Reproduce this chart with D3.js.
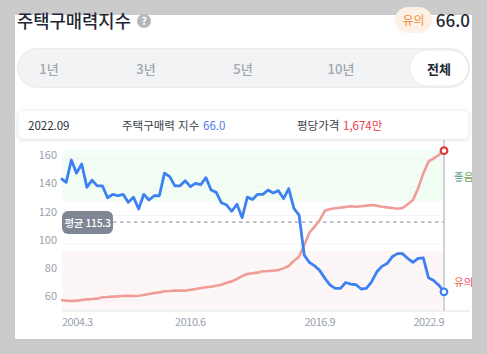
<!DOCTYPE html>
<html lang="ko"><head><meta charset="utf-8">
<script src="https://cdnjs.cloudflare.com/ajax/libs/d3/7.8.5/d3.min.js"></script>
<style>html,body{margin:0;padding:0;background:#cbcbcb}svg{display:block}text{font-family:"Noto Sans CJK KR","Noto Sans",sans-serif}</style>
</head><body><div id="c"></div>
<script>
const indexValues=[146.3,143.5,159.3,150,156.5,140,145,141,141,132.6,135,134,135,129.3,133,124.6,135,131,134,134,150,147.5,141,141,144.6,140.4,142.8,141.8,146.8,138,136.4,129,127.4,123,128,118.4,133,131.4,135,135,138,136,137.6,132,139,125,120.3,92,86.8,84.4,81,75.5,70.7,68.4,68.4,72.6,71.5,71,68,68.4,73,80,84,86,90.8,93,93,89.6,86.8,89.6,90,76,74,70.7,66];
const priceValues=[560,555,553,555,560,565,567,570,580,582,585,587,590,592,590,592,597,605,612,617,625,627,630,630,630,637,642,650,655,659,667,674,689,699,717,739,754,759,764,774,776,779,784,796,814,853,883,970,1062,1107,1157,1226,1239,1244,1249,1254,1259,1256,1259,1264,1269,1264,1256,1251,1246,1241,1246,1274,1306,1393,1505,1592,1617,1642,1674];
const yTicks=[60,80,100,120,140,160];
const xTickIndex=[0,25,50,74];
const xTickLabels=["2004.3","2010.6","2016.9","2022.9"];
const tabs=["1년","3년","5년","10년","전체"];
const average=115.3;
const goodFrom=130, warnTo=95;

const svg=d3.select("#c").append("svg").attr("width",487).attr("height",354);
const defs=svg.append("defs");
defs.append("clipPath").attr("id","card").append("rect").attr("x",15).attr("y",0).attr("width",457).attr("height",339);
const f=defs.append("filter").attr("id","sh").attr("x","-5%").attr("y","-30%").attr("width","110%").attr("height","160%");
f.append("feDropShadow").attr("dx",0).attr("dy",1).attr("stdDeviation",1.5).attr("flood-color","#000").attr("flood-opacity",0.12);
const gr=defs.append("linearGradient").attr("id","good").attr("x1",0).attr("x2",1);
gr.append("stop").attr("offset",0).attr("stop-color","#3f9c8a");gr.append("stop").attr("offset",1).attr("stop-color","#7aa83e");
const gp=defs.append("linearGradient").attr("id","warn").attr("x1",0).attr("x2",1);
gp.append("stop").attr("offset",0).attr("stop-color","#ef7a3c");gp.append("stop").attr("offset",1).attr("stop-color","#e8316e");

svg.append("rect").attr("x",15).attr("y",15).attr("width",457).attr("height",324).attr("fill","#fff");

// header
svg.append("text").attr("x",17).attr("y",28).attr("font-size",17.7).attr("font-weight",500).attr("fill","#222833").text("주택구매력지수");
svg.append("circle").attr("cx",144).attr("cy",21).attr("r",7).attr("fill","#b4b6ba");
svg.append("text").attr("x",144).attr("y",25).attr("text-anchor","middle").attr("font-size",11).attr("font-weight",700).attr("fill","#fff").text("?");
svg.append("rect").attr("x",395).attr("y",7).attr("width",37).attr("height",26).attr("rx",13).attr("fill","#fdf1e6");
svg.append("text").attr("x",413.5).attr("y",25).attr("text-anchor","middle").attr("font-size",12).attr("fill","#f58a2e").text("유의");
svg.append("text").attr("x",470).attr("y",27).attr("text-anchor","end").attr("font-size",17).attr("font-weight",500).attr("fill","#222833").text("66.0");

// tabs
svg.append("rect").attr("x",17.5).attr("y",48.5).attr("width",452).attr("height",39).attr("rx",19.5).attr("fill","#f1f3f5").attr("stroke","#e9ebed");
svg.append("rect").attr("x",409.5).attr("y",50).attr("width",59).attr("height",36).attr("rx",18).attr("fill","#fff").attr("stroke","#e6e8ea");
const tabX=[49,146,243,341,439];
svg.selectAll(".tab").data(tabs).join("text").attr("class","tab").attr("x",(d,i)=>tabX[i]).attr("y",73.5).attr("text-anchor","middle").attr("font-size",13).attr("font-weight",(d,i)=>i===4?700:500).attr("fill",(d,i)=>i===4?"#222833":"#a2a6ac").text(d=>d);

// info box
svg.append("rect").attr("x",18).attr("y",110).attr("width",451).attr("height",29).attr("rx",5).attr("fill","#fff").attr("stroke","#eeeff1").attr("filter","url(#sh)");
const info=(x,t,c)=>svg.append("text").attr("x",x).attr("y",130).attr("font-size",11.5).attr("fill",c).text(t);
info(28,"2022.09","#2a2e36");info(122,"주택구매력 지수","#3a3e46");info(203,"66.0","#4b7bf0");info(297,"평당가격","#3a3e46");info(343,"1,674만","#e8404f");

// scales
const x=d3.scaleLinear().domain([0,indexValues.length-1]).range([61,444]);
const y=d3.scaleLinear().domain([60,160]).range([300.3,159]);
const yP=d3.scaleLinear().domain([560,1674]).range([300,150.7]);

// bands
svg.append("rect").attr("x",62).attr("y",150).attr("width",381).attr("height",y(goodFrom)-150).attr("fill","#f2fdf3");
svg.append("rect").attr("x",62).attr("y",y(warnTo)).attr("width",381).attr("height",310-y(warnTo)).attr("fill","#fdf6f6");
// grid
svg.selectAll(".grid").data(yTicks).join("line").attr("x1",62).attr("x2",440).attr("y1",d=>y(d)).attr("y2",d=>y(d)).attr("stroke","#f2f3f6").attr("stroke-width",1);
svg.append("line").attr("x1",62).attr("x2",470).attr("y1",311).attr("y2",311).attr("stroke","#eff0f2").attr("stroke-width",2);
const ax=svg.append("g").attr("transform","translate(57,0)").call(d3.axisLeft(y).tickValues(yTicks).tickSize(0).tickPadding(0));
ax.select(".domain").remove();
ax.selectAll("text").attr("font-size",11).attr("fill","#9a9fb0").attr("dy",0).attr("y",0.5).each(function(d){d3.select(this).attr("transform",`translate(0,-4)`).attr("dominant-baseline","middle")});
svg.selectAll(".xt").data(xTickLabels).join("text").attr("class","xt").attr("x",(d,i)=>x(xTickIndex[i])).attr("dx",(d,i)=>i===0?1:0).attr("y",326).attr("text-anchor",(d,i)=>i===0?"start":i===3?"end":"middle").attr("font-size",11).attr("letter-spacing",-0.5).attr("fill","#9a9fb0").text(d=>d);

// average
svg.append("line").attr("x1",113).attr("x2",444).attr("y1",y(average)).attr("y2",y(average)).attr("stroke","#9c9fae").attr("stroke-width",1.3).attr("stroke-dasharray","3.5 3.5");
svg.append("line").attr("x1",444).attr("x2",444).attr("y1",140).attr("y2",311).attr("stroke","#c6c7ce").attr("stroke-width",1.6);
svg.append("rect").attr("x",62).attr("y",211).attr("width",51).attr("height",23).attr("rx",6).attr("fill","#7f8694");
svg.append("text").attr("x",87.5).attr("y",227).attr("text-anchor","middle").attr("font-size",10.5).attr("font-weight",500).attr("letter-spacing",-0.4).attr("fill","#fff").text("평균 "+average);

// series
const line=(s)=>d3.line().x((d,i)=>x(i)).y(d=>s(d)).curve(d3.curveLinear);
svg.append("path").attr("d",line(yP)(priceValues)).attr("fill","none").attr("stroke","#f09c98").attr("stroke-width",2.6).attr("stroke-linejoin","round");
svg.append("path").attr("d",line(y)(indexValues)).attr("fill","none").attr("stroke","#3d80f2").attr("stroke-width",2.8).attr("stroke-linejoin","round");
const n=indexValues.length-1;
svg.append("circle").attr("cx",x(n)).attr("cy",yP(priceValues[n])).attr("r",3.3).attr("fill","#fff").attr("stroke","#e23a3a").attr("stroke-width",2.2);
svg.append("circle").attr("cx",x(n)).attr("cy",y(indexValues[n])).attr("r",3.3).attr("fill","#fff").attr("stroke","#3d80f2").attr("stroke-width",2.2);

// right labels
const rl=svg.append("g").attr("clip-path","url(#card)");
rl.append("text").attr("x",454).attr("y",181).attr("font-size",10.5).attr("fill","url(#good)").text("좋음");
rl.append("text").attr("x",454).attr("y",286).attr("font-size",10.5).attr("fill","url(#warn)").text("유의");
</script></body></html>
